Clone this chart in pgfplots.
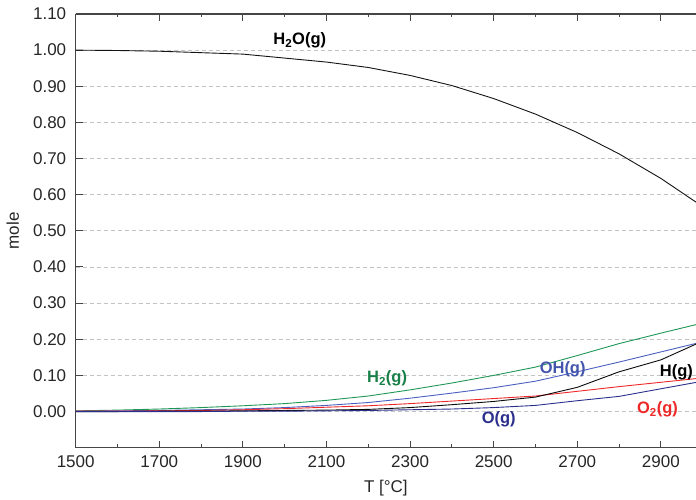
\documentclass[border=0pt]{standalone}
\usepackage{pgfplots}
\pgfplotsset{compat=1.18}
\usepackage{fontspec}
\setmainfont{Liberation Sans}

\definecolor{cH2O}{RGB}{20,20,20}
\definecolor{cH2}{RGB}{30,150,85}
\definecolor{cOH}{RGB}{75,95,192}
\definecolor{cO2}{RGB}{238,40,40}
\definecolor{cH}{RGB}{10,10,10}
\definecolor{cO}{RGB}{43,47,140}
\definecolor{axisgray}{RGB}{70,70,70}
\definecolor{gridgray}{RGB}{195,195,195}

\begin{document}
\begin{tikzpicture}
\begin{axis}[
  scale only axis,
  width=620.3pt, height=433.7pt,
  xmin=1500, xmax=2984,
  ymin=-0.1, ymax=1.1,
  axis x line=box, axis y line=left,
  axis line style={-, axisgray, line width=1.2pt},
  every outer y axis line/.append style={-},
  every inner y axis line/.append style={-},
  xtick={1500,1700,...,2900},
  minor x tick num=1,
  ytick={0,0.1,...,1.1},
  tick align=inside,
  major tick length=7pt, minor tick length=3.5pt,
  tick style={axisgray, line width=1pt},
  ymajorgrids,
  major grid style={gridgray, dash pattern=on 4pt off 3pt, line width=0.8pt},
  /pgf/number format/assume math mode=true,
  tick label style={font=\fontsize{17}{20}\selectfont, text=black!85},
  xticklabel style={/pgf/number format/set thousands separator={}, yshift=-4pt},
  yticklabel style={/pgf/number format/.cd, fixed, fixed zerofill, precision=2, /tikz/.cd, xshift=-6pt},
  xlabel={T [°C]},
  ylabel={mole},
  label style={font=\fontsize{17}{20}\selectfont, text=black!85},
  xlabel style={at={(axis description cs:0.5,0)}, anchor=center, yshift=-40.3pt},
  ylabel style={at={(axis description cs:0,0.5)}, anchor=center, yshift=63pt},
  clip mode=individual,
  every axis plot/.append style={line width=0.9pt, mark=none},
]

% H2O(g)
\addplot[cH2O] coordinates {
 (1500,1.000) (1600,0.999) (1700,0.997) (1800,0.993) (1900,0.989)
 (2000,0.978) (2100,0.967) (2200,0.952) (2300,0.930) (2400,0.902)
 (2500,0.866) (2600,0.823) (2700,0.772) (2800,0.713) (2900,0.645) (3000,0.567)};
% H2(g)
\addplot[cH2] coordinates {
 (1500,0.002) (1600,0.004) (1700,0.007) (1800,0.011) (1900,0.016)
 (2000,0.022) (2100,0.031) (2200,0.043) (2300,0.060) (2400,0.079)
 (2500,0.100) (2600,0.123) (2700,0.155) (2800,0.188) (2900,0.217) (3000,0.245)};
% OH(g)
\addplot[cOH] coordinates {
 (1500,0.001) (1600,0.002) (1700,0.003) (1800,0.005) (1900,0.007)
 (2000,0.011) (2100,0.017) (2200,0.025) (2300,0.037) (2400,0.051)
 (2500,0.066) (2600,0.084) (2700,0.110) (2800,0.137) (2900,0.165) (3000,0.193)};
% O2(g)
\addplot[cO2] coordinates {
 (1500,0.001) (1600,0.001) (1700,0.002) (1800,0.003) (1900,0.005)
 (2000,0.008) (2100,0.012) (2200,0.016) (2300,0.022) (2400,0.029)
 (2500,0.036) (2600,0.043) (2700,0.056) (2800,0.069) (2900,0.081) (3000,0.093)};
% H(g)
\addplot[cH] coordinates {
 (1500,0.000) (1600,0.000) (1700,0.001) (1800,0.001) (1900,0.002)
 (2000,0.003) (2100,0.004) (2200,0.006) (2300,0.011) (2400,0.019)
 (2500,0.028) (2600,0.040) (2700,0.067) (2800,0.110) (2900,0.143) (3000,0.195)};
% O(g)
\addplot[cO] coordinates {
 (1500,0.000) (1600,0.000) (1700,0.000) (1800,0.000) (1900,0.001)
 (2000,0.001) (2100,0.002) (2200,0.003) (2300,0.005) (2400,0.007)
 (2500,0.011) (2600,0.017) (2700,0.030) (2800,0.042) (2900,0.063) (3000,0.084)};

% species labels
\begin{scope}[every node/.style={font=\fontsize{16.5}{19}\selectfont\bfseries, inner sep=0pt}]
\node[text=black] at (axis cs:2036,1.027) {H\textsubscript{2}O(g)};
\node[text=cH2!85!black] at (axis cs:2245,0.091) {H\textsubscript{2}(g)};
\node[text=cOH!90!black] at (axis cs:2665,0.116) {OH(g)};
\node[text=black] at (axis cs:2937,0.110) {H(g)};
\node[text=cO] at (axis cs:2512,-0.020) {O(g)};
\node[text=cO2] at (axis cs:2892,0.005) {O\textsubscript{2}(g)};
\end{scope}

\coordinate (bl) at (rel axis cs:0,0);
\coordinate (tr) at (rel axis cs:1,1);
\end{axis}
\pgfresetboundingbox
\useasboundingbox ([xshift=-75.7pt,yshift=-52.3pt]bl) rectangle ([yshift=14pt]tr);
\end{tikzpicture}
\end{document}
